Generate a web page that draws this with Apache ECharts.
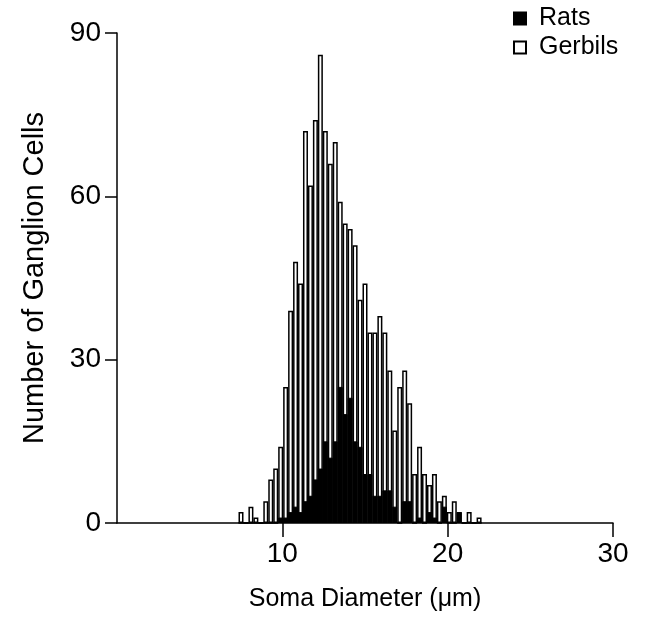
<!DOCTYPE html>
<html>
<head>
<meta charset="utf-8">
<script src="https://cdn.jsdelivr.net/npm/echarts@6/dist/echarts.min.js"></script>
<style>
    html, body { margin: 0; padding: 0; background: #fff; }
    #chart { width: 665px; height: 617px; }
</style>
</head>
<body>
<div id="chart"></div>
<script>
// Bin centres (soma diameter, um)
const diameters = [7.5, 7.8, 8.1, 8.4, 8.7, 9.0, 9.3, 9.6, 9.9, 10.2,
    10.5, 10.8, 11.1, 11.4, 11.7, 12.0, 12.3, 12.6, 12.9, 13.2,
    13.5, 13.8, 14.1, 14.4, 14.7, 15.0, 15.3, 15.6, 15.9, 16.2,
    16.5, 16.8, 17.1, 17.4, 17.7, 18.0, 18.3, 18.6, 18.9, 19.2,
    19.5, 19.8, 20.1, 20.4, 20.7, 21.0, 21.3, 21.6, 21.9];

// Counts per bin
const gerbils = [2, 0, 3, 1, 0, 4, 8, 10, 14, 25,
    39, 48, 44, 72, 62, 74, 86, 72, 66, 70,
    59, 55, 54, 51, 41, 44, 35, 35, 38, 35,
    28, 17, 25, 28, 22, 9, 14, 9, 7, 9,
    4, 5, 2, 4, 2, 0, 2, 0, 1];
const rats = [0, 0, 0, 0, 0, 0, 0, 0, 1, 1,
    2, 3, 2, 4, 5, 8, 10, 15, 12, 15,
    25, 20, 23, 15, 14, 9, 9, 5, 5, 6,
    6, 3, 0, 4, 4, 0, 1, 0, 2, 1,
    0, 3, 0, 0, 2, 0, 0, 0, 0];

const xTicks = [10, 20, 30];

const font = 'Liberation Sans, Arial, sans-serif';

const chart = echarts.init(document.getElementById('chart'));
chart.setOption({
    animation: false,
    backgroundColor: '#fff',
    grid: { left: 117, right: 52, top: 33, bottom: 93 },
    legend: {
        data: ['Rats', 'Gerbils'],
        orient: 'vertical',
        left: 508,
        top: 1,
        icon: 'rect',
        itemWidth: 12,
        itemHeight: 12,
        itemGap: 4,
        textStyle: { fontFamily: font, fontSize: 25, color: '#000', padding: [0, 0, 0, 8] }
    },
    xAxis: {
        type: 'value',
        min: 0,
        max: 30,
        interval: 10,
        name: 'Soma Diameter (\u03bcm)',
        nameLocation: 'middle',
        nameGap: 64,
        nameTextStyle: { fontFamily: font, fontSize: 25, color: '#000', verticalAlign: 'top' },
        axisLine: { show: true, lineStyle: { color: '#000', width: 1.5 } },
        axisTick: { show: true, length: 14, customValues: xTicks, lineStyle: { color: '#000', width: 1.5 } },
        axisLabel: { customValues: xTicks, fontFamily: font, fontSize: 28, color: '#000', margin: 17 },
        splitLine: { show: false }
    },
    yAxis: {
        type: 'value',
        min: 0,
        max: 90,
        interval: 30,
        name: 'Number of Ganglion Cells',
        nameLocation: 'middle',
        nameGap: 68,
        nameTextStyle: { fontFamily: font, fontSize: 29, color: '#000' },
        axisLine: { show: true, lineStyle: { color: '#000', width: 1.5 } },
        axisTick: { show: true, length: 12, lineStyle: { color: '#000', width: 1.5 } },
        axisLabel: { fontFamily: font, fontSize: 28, color: '#000', margin: 16 },
        splitLine: { show: false }
    },
    series: [
        {
            name: 'Gerbils',
            type: 'bar',
            barWidth: 5,
            data: diameters.map((d, i) => [d, gerbils[i]]),
            itemStyle: { color: '#fff', borderColor: '#000', borderWidth: 1.5 }
        },
        {
            name: 'Rats',
            type: 'bar',
            barWidth: 5,
            barGap: '-100%',
            data: diameters.map((d, i) => [d, rats[i]]),
            itemStyle: { color: '#000', borderColor: '#000', borderWidth: 1 }
        }
    ]
});
</script>
</body>
</html>
